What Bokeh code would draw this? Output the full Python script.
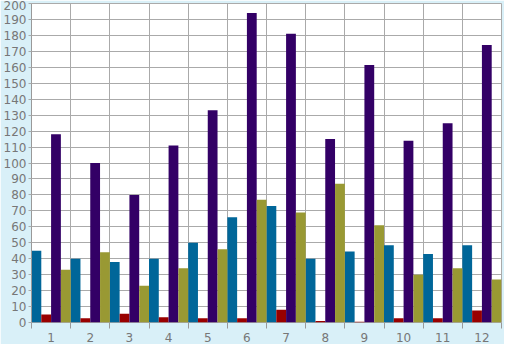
from bokeh.plotting import figure
from bokeh.models import Range1d, FixedTicker, ColumnDataSource
from bokeh.transform import dodge
from bokeh.embed import file_html
from bokeh.resources import INLINE

categories = [1, 2, 3, 4, 5, 6, 7, 8, 9, 10, 11, 12]
blue_vals = [45, 40, 38, 40, 50, 66, 73, 40, 44.5, 48.5, 43, 48.5]
red_vals = [5, 2.7, 5.5, 3.3, 2.7, 2.7, 8, 1, 0.5, 2.7, 2.7, 7.5]
purple_vals = [118, 100, 80, 111, 133, 194, 181, 115, 161.5, 114, 125, 174]
olive_vals = [33, 44, 23, 34, 46, 77, 69, 87, 61, 30, 34, 27]
y_ticks = list(range(0, 201, 10))

series = [
    ("blue", blue_vals, "#006699", -0.375),
    ("red", red_vals, "#990000", -0.125),
    ("purple", purple_vals, "#330066", 0.125),
    ("olive", olive_vals, "#999933", 0.375),
]

src = ColumnDataSource(dict(cat=categories, blue=blue_vals, red=red_vals,
                            purple=purple_vals, olive=olive_vals))

p = figure(width=504, height=344, output_backend="svg", toolbar_location=None,
           x_range=Range1d(0.5, len(categories) + 0.5), y_range=Range1d(0, 200),
           min_border_left=4, min_border_right=3, min_border_top=3, min_border_bottom=4)

p.border_fill_color = "#D9F0F8"
p.background_fill_color = "#FFFFFF"
p.outline_line_color = "#AAAAAA"

for name, vals, color, off in series:
    p.vbar(x=dodge("cat", off), top=name, width=0.25, bottom=0, source=src,
           fill_color=color, line_color=None)

boundaries = [c - 0.5 for c in categories] + [categories[-1] + 0.5]

p.xaxis.ticker = FixedTicker(ticks=categories, minor_ticks=boundaries)
p.xgrid.ticker = FixedTicker(ticks=boundaries)
p.ygrid.ticker = FixedTicker(ticks=y_ticks)
p.yaxis.ticker = FixedTicker(ticks=y_ticks)

for g in (p.xgrid, p.ygrid):
    g.grid_line_color = "#AAAAAA"
    g.grid_line_width = 1

p.xaxis.axis_line_color = None
p.xaxis.major_tick_line_color = None
p.xaxis.minor_tick_line_color = "#999999"
p.xaxis.minor_tick_out = 6
p.xaxis.minor_tick_in = 0
p.xaxis.major_label_standoff = 4

p.yaxis.axis_line_color = "#999999"
p.yaxis.major_tick_line_color = "#AAAAAA"
p.yaxis.major_tick_out = 3
p.yaxis.major_tick_in = 0
p.yaxis.minor_tick_line_color = None
p.yaxis.major_label_standoff = 2

for ax in (p.xaxis, p.yaxis):
    ax.major_label_text_font = "DejaVu Sans"
    ax.major_label_text_font_size = "12px"
    ax.major_label_text_color = "#777777"

open("out.html", "w").write(file_html(p, INLINE))
